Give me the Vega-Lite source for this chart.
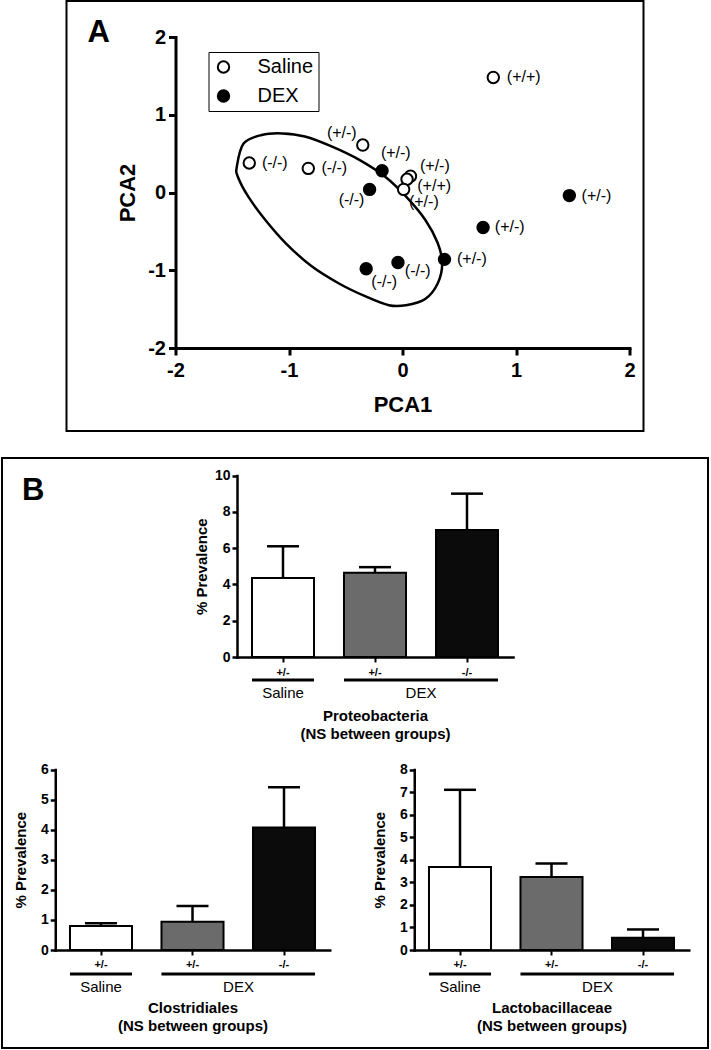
{
  "$schema": "https://vega.github.io/schema/vega-lite/v6.json",
  "background": "white",
  "padding": {"left": 1, "top": 0, "right": 0, "bottom": 0},
  "spacing": 25,
  "center": true,
  "resolve": {"scale": {"fill": "independent"}, "legend": {"fill": "independent"}},
  "datasets": {
    "panels": [{"panel": "A"}, {"panel": "B"}],
    "pca": [
      {"group": "Saline", "pc1": 0.80, "pc2": 1.48, "label": "(+/+)", "lx": 1.068, "ly": 1.482},
      {"group": "Saline", "pc1": -1.35, "pc2": 0.38, "label": "(-/-)", "lx": -1.125, "ly": 0.376},
      {"group": "Saline", "pc1": -0.83, "pc2": 0.31, "label": "(-/-)", "lx": -0.601, "ly": 0.311},
      {"group": "Saline", "pc1": -0.35, "pc2": 0.61, "label": "(+/-)", "lx": -0.535, "ly": 0.761},
      {"group": "Saline", "pc1": 0.07, "pc2": 0.21, "label": "(+/-)", "lx": 0.285, "ly": 0.345},
      {"group": "Saline", "pc1": 0.04, "pc2": 0.17, "label": "(+/+)", "lx": 0.279, "ly": 0.088},
      {"group": "Saline", "pc1": 0.01, "pc2": 0.04, "label": "(+/-)", "lx": 0.188, "ly": -0.118},
      {"group": "DEX", "pc1": -0.18, "pc2": 0.28, "label": "(+/-)", "lx": -0.059, "ly": 0.504},
      {"group": "DEX", "pc1": -0.29, "pc2": 0.04, "label": "(-/-)", "lx": -0.449, "ly": -0.096},
      {"group": "DEX", "pc1": 1.47, "pc2": -0.04, "label": "(+/-)", "lx": 1.709, "ly": -0.041},
      {"group": "DEX", "pc1": 0.71, "pc2": -0.45, "label": "(+/-)", "lx": 0.945, "ly": -0.448},
      {"group": "DEX", "pc1": 0.37, "pc2": -0.86, "label": "(+/-)", "lx": 0.611, "ly": -0.855},
      {"group": "DEX", "pc1": -0.04, "pc2": -0.90, "label": "(-/-)", "lx": 0.134, "ly": -1.005},
      {"group": "DEX", "pc1": -0.32, "pc2": -0.98, "label": "(-/-)", "lx": -0.161, "ly": -1.155}
    ],
    "ellipse": [
      {"i": 0, "pc1": -1.46, "pc2": 0.33},
      {"i": 1, "pc1": -1.40, "pc2": 0.63},
      {"i": 2, "pc1": -1.24, "pc2": 0.74},
      {"i": 3, "pc1": -1.06, "pc2": 0.76},
      {"i": 4, "pc1": -0.86, "pc2": 0.72},
      {"i": 5, "pc1": -0.62, "pc2": 0.59},
      {"i": 6, "pc1": -0.38, "pc2": 0.42},
      {"i": 7, "pc1": -0.15, "pc2": 0.20},
      {"i": 8, "pc1": 0.03, "pc2": -0.05},
      {"i": 9, "pc1": 0.20, "pc2": -0.35},
      {"i": 10, "pc1": 0.31, "pc2": -0.65},
      {"i": 11, "pc1": 0.35, "pc2": -0.91},
      {"i": 12, "pc1": 0.31, "pc2": -1.17},
      {"i": 13, "pc1": 0.20, "pc2": -1.37},
      {"i": 14, "pc1": 0.03, "pc2": -1.45},
      {"i": 15, "pc1": -0.12, "pc2": -1.45},
      {"i": 16, "pc1": -0.32, "pc2": -1.34},
      {"i": 17, "pc1": -0.56, "pc2": -1.17},
      {"i": 18, "pc1": -0.80, "pc2": -0.95},
      {"i": 19, "pc1": -1.03, "pc2": -0.65},
      {"i": 20, "pc1": -1.21, "pc2": -0.35},
      {"i": 21, "pc1": -1.36, "pc2": -0.05},
      {"i": 22, "pc1": -1.45, "pc2": 0.20}
    ],
    "bars": [
      {"taxon": "Proteobacteria", "cat": "Saline +/-", "mean": 4.35, "upper": 6.1},
      {"taxon": "Proteobacteria", "cat": "DEX +/-", "mean": 4.64, "upper": 4.95},
      {"taxon": "Proteobacteria", "cat": "DEX -/-", "mean": 7.0, "upper": 9.0},
      {"taxon": "Clostridiales", "cat": "Saline +/-", "mean": 0.80, "upper": 0.89},
      {"taxon": "Clostridiales", "cat": "DEX +/-", "mean": 0.94, "upper": 1.46},
      {"taxon": "Clostridiales", "cat": "DEX -/-", "mean": 4.07, "upper": 5.41},
      {"taxon": "Lactobacillaceae", "cat": "Saline +/-", "mean": 3.68, "upper": 7.1},
      {"taxon": "Lactobacillaceae", "cat": "DEX +/-", "mean": 3.24, "upper": 3.83},
      {"taxon": "Lactobacillaceae", "cat": "DEX -/-", "mean": 0.54, "upper": 0.91}
    ],
    "groups": [
      {"taxon": "Proteobacteria", "group": "Saline", "first": "Saline +/-", "last": "Saline +/-"},
      {"taxon": "Proteobacteria", "group": "DEX", "first": "DEX +/-", "last": "DEX -/-"},
      {"taxon": "Clostridiales", "group": "Saline", "first": "Saline +/-", "last": "Saline +/-"},
      {"taxon": "Clostridiales", "group": "DEX", "first": "DEX +/-", "last": "DEX -/-"},
      {"taxon": "Lactobacillaceae", "group": "Saline", "first": "Saline +/-", "last": "Saline +/-"},
      {"taxon": "Lactobacillaceae", "group": "DEX", "first": "DEX +/-", "last": "DEX -/-"}
    ]
  },
  "vconcat": [
    {
      "width": 577,
      "height": 430,
      "layer": [
        {
          "data": {"name": "ellipse"},
          "mark": {"type": "line", "interpolate": "cardinal-closed", "stroke": "black", "strokeWidth": 2.5},
          "encoding": {
            "x": {"field": "pc1", "type": "quantitative", "scale": {"domain": [-2, 2], "range": [109, 563], "nice": false, "zero": false},
              "axis": {"orient": "bottom", "offset": -83, "values": [-2, -1, 0, 1, 2], "title": "PCA1", "labelExpr": "datum.value + ''",
                "domainWidth": 3, "tickWidth": 3, "tickSize": 7, "labelFont": "Liberation Sans", "labelFontWeight": "bold", "labelFontSize": 20, "labelPadding": 5,
                "titleFont": "Liberation Sans", "titleFontSize": 22, "titleFontWeight": "bold", "titlePadding": 14}},
            "y": {"field": "pc2", "type": "quantitative", "scale": {"domain": [-2, 2], "range": [347, 36], "nice": false, "zero": false},
              "axis": {"orient": "left", "offset": -109, "values": [-2, -1, 0, 1, 2], "title": "PCA2", "labelExpr": "datum.value + ''",
                "domainWidth": 3, "tickWidth": 3, "tickSize": 7, "labelFont": "Liberation Sans", "labelFontWeight": "bold", "labelFontSize": 20, "labelPadding": 3,
                "titleFont": "Liberation Sans", "titleFontSize": 22, "titleFontWeight": "bold", "titlePadding": 8}},
            "order": {"field": "i", "type": "quantitative"}
          }
        },
        {
          "data": {"name": "pca"},
          "mark": {"type": "point", "filled": true, "size": 130, "stroke": "black", "strokeWidth": 2, "opacity": 1},
          "encoding": {
            "x": {"field": "pc1", "type": "quantitative"},
            "y": {"field": "pc2", "type": "quantitative"},
            "fill": {"field": "group", "type": "nominal", "scale": {"domain": ["Saline", "DEX"], "range": ["white", "black"]},
              "legend": {"title": null, "orient": "none", "legendX": 142, "legendY": 51, "direction": "vertical", "strokeColor": "black", "fillColor": "white",
                "padding": 5, "symbolType": "circle", "symbolSize": 130, "symbolStrokeColor": "black", "symbolStrokeWidth": 2,
                "labelFont": "Liberation Sans", "labelFontSize": 20, "labelColor": "black", "labelOffset": 24, "rowPadding": 9}}
          }
        },
        {
          "data": {"name": "pca"},
          "mark": {"type": "text", "fontSize": 16, "font": "Liberation Sans", "align": "center", "baseline": "middle", "color": "black"},
          "encoding": {
            "x": {"field": "lx", "type": "quantitative"},
            "y": {"field": "ly", "type": "quantitative"},
            "text": {"field": "label"}
          }
        },
        {
          "data": {"name": "panels"},
          "transform": [{"filter": "datum.panel === 'A'"}],
          "mark": {"type": "text", "fontSize": 31, "fontWeight": "bold", "font": "Liberation Sans", "align": "left", "baseline": "alphabetic", "color": "black"},
          "encoding": {
            "x": {"datum": -2.775, "type": "quantitative"},
            "y": {"datum": 1.936, "type": "quantitative"},
            "text": {"field": "panel"}
          }
        }
      ]
    },
    {
      "width": 706,
      "height": 590,
      "resolve": {"scale": {"x": "independent", "y": "independent"}, "axis": {"x": "independent", "y": "independent"}},
      "layer": [
        {
          "layer": [
            {
              "data": {"name": "bars"},
              "transform": [{"filter": "datum.taxon === 'Proteobacteria'"}],
              "mark": {"type": "bar", "stroke": "black", "strokeWidth": 2},
              "encoding": {
                "x": {"field": "cat", "type": "nominal", "scale": {"domain": ["Saline +/-", "DEX +/-", "DEX -/-"], "range": [235, 511], "paddingInner": 0.326, "paddingOuter": 0.163},
                  "axis": {"orient": "bottom", "offset": -391, "title": ["Proteobacteria", "(NS between groups)"], "labelExpr": "split(datum.label, ' ')[1]", "labelAngle": 0,
                    "labelFont": "Liberation Sans", "labelFontSize": 11, "labelFontWeight": "bold", "labelPadding": 4, "tickSize": 5, "tickWidth": 2, "domainWidth": 2.5,
                    "titleFont": "Liberation Sans", "titleFontSize": 15, "titleFontWeight": "bold", "titleLineHeight": 18, "titlePadding": 31}},
                "y": {"field": "mean", "type": "quantitative", "scale": {"domain": [0, 10], "range": [199, 17.5], "nice": false, "zero": false},
                  "axis": {"orient": "left", "offset": -235, "values": [0, 2, 4, 6, 8, 10], "format": "d", "title": "% Prevalence",
                    "labelFont": "Liberation Sans", "labelFontSize": 14, "labelFontWeight": "bold", "labelPadding": 2, "tickSize": 5, "tickWidth": 2.5, "domainWidth": 2.5,
                    "titleFont": "Liberation Sans", "titleFontSize": 15, "titleFontWeight": "bold", "titlePadding": 5}},
                "color": {"field": "cat", "type": "nominal", "scale": {"domain": ["Saline +/-", "DEX +/-", "DEX -/-"], "range": ["white", "#6b6b6b", "#0b0b0b"]}, "legend": null}
              }
            },
            {
              "data": {"name": "bars"},
              "transform": [{"filter": "datum.taxon === 'Proteobacteria'"}],
              "mark": {"type": "rule", "strokeWidth": 2.5, "color": "black"},
              "encoding": {"x": {"field": "cat", "type": "nominal"}, "y": {"field": "mean", "type": "quantitative"}, "y2": {"field": "upper"}}
            },
            {
              "data": {"name": "bars"},
              "transform": [{"filter": "datum.taxon === 'Proteobacteria'"}],
              "mark": {"type": "tick", "size": 32, "thickness": 2.5, "color": "black", "orient": "horizontal", "opacity": 1},
              "encoding": {"x": {"field": "cat", "type": "nominal"}, "y": {"field": "upper", "type": "quantitative"}}
            },
            {
              "data": {"name": "groups"},
              "transform": [{"filter": "datum.taxon === 'Proteobacteria'"}],
              "mark": {"type": "rule", "strokeWidth": 3, "color": "black", "yOffset": 23},
              "encoding": {"x": {"field": "first", "type": "nominal", "bandPosition": 0}, "x2": {"field": "last", "bandPosition": 1}, "y": {"datum": 0, "type": "quantitative"}}
            },
            {
              "data": {"name": "groups"},
              "transform": [{"filter": "datum.taxon === 'Proteobacteria' && datum.group === 'Saline'"}],
              "mark": {"type": "text", "dy": 36, "fontSize": 15, "font": "Liberation Sans", "baseline": "middle", "align": "center", "color": "black"},
              "encoding": {"x": {"field": "first", "type": "nominal", "bandPosition": 0.5}, "y": {"datum": 0, "type": "quantitative"}, "text": {"field": "group"}}
            },
            {
              "data": {"name": "groups"},
              "transform": [{"filter": "datum.taxon === 'Proteobacteria' && datum.group === 'DEX'"}],
              "mark": {"type": "text", "dy": 36, "dx": 46, "fontSize": 15, "font": "Liberation Sans", "baseline": "middle", "align": "center", "color": "black"},
              "encoding": {"x": {"field": "first", "type": "nominal", "bandPosition": 0.5}, "y": {"datum": 0, "type": "quantitative"}, "text": {"field": "group"}}
            },
            {
              "data": {"name": "panels"},
              "transform": [{"filter": "datum.panel === 'B'"}],
              "mark": {"type": "text", "dx": -230, "dy": 24.5, "fontSize": 31, "fontWeight": "bold", "font": "Liberation Sans", "align": "left", "baseline": "alphabetic", "color": "black"},
              "encoding": {"x": {"datum": "Saline +/-", "type": "nominal", "bandPosition": 0}, "y": {"datum": 10, "type": "quantitative"}, "text": {"field": "panel"}}
            }
          ]
        },
        {
          "layer": [
            {
              "data": {"name": "bars"},
              "transform": [{"filter": "datum.taxon === 'Clostridiales'"}],
              "mark": {"type": "bar", "stroke": "black", "strokeWidth": 2},
              "encoding": {
                "x": {"field": "cat", "type": "nominal", "scale": {"domain": ["Saline +/-", "DEX +/-", "DEX -/-"], "range": [53.25, 327.75], "paddingInner": 0.322, "paddingOuter": 0.161},
                  "axis": {"orient": "bottom", "offset": -98, "title": ["Clostridiales", "(NS between groups)"], "labelExpr": "split(datum.label, ' ')[1]", "labelAngle": 0,
                    "labelFont": "Liberation Sans", "labelFontSize": 11, "labelFontWeight": "bold", "labelPadding": 3, "tickSize": 5, "tickWidth": 2, "domainWidth": 2.5,
                    "titleFont": "Liberation Sans", "titleFontSize": 15, "titleFontWeight": "bold", "titleLineHeight": 18, "titlePadding": 31}},
                "y": {"field": "mean", "type": "quantitative", "scale": {"domain": [0, 6], "range": [492, 311.5], "nice": false, "zero": false},
                  "axis": {"orient": "left", "offset": -53.25, "values": [0, 1, 2, 3, 4, 5, 6], "format": "d", "title": "% Prevalence",
                    "labelFont": "Liberation Sans", "labelFontSize": 14, "labelFontWeight": "bold", "labelPadding": 2, "tickSize": 5, "tickWidth": 2.5, "domainWidth": 2.5,
                    "titleFont": "Liberation Sans", "titleFontSize": 15, "titleFontWeight": "bold", "titlePadding": 12}},
                "color": {"field": "cat", "type": "nominal", "scale": {"domain": ["Saline +/-", "DEX +/-", "DEX -/-"], "range": ["white", "#6b6b6b", "#0b0b0b"]}, "legend": null}
              }
            },
            {
              "data": {"name": "bars"},
              "transform": [{"filter": "datum.taxon === 'Clostridiales'"}],
              "mark": {"type": "rule", "strokeWidth": 2.5, "color": "black"},
              "encoding": {"x": {"field": "cat", "type": "nominal"}, "y": {"field": "mean", "type": "quantitative"}, "y2": {"field": "upper"}}
            },
            {
              "data": {"name": "bars"},
              "transform": [{"filter": "datum.taxon === 'Clostridiales'"}],
              "mark": {"type": "tick", "size": 32, "thickness": 2.5, "color": "black", "orient": "horizontal", "opacity": 1},
              "encoding": {"x": {"field": "cat", "type": "nominal"}, "y": {"field": "upper", "type": "quantitative"}}
            },
            {
              "data": {"name": "groups"},
              "transform": [{"filter": "datum.taxon === 'Clostridiales'"}],
              "mark": {"type": "rule", "strokeWidth": 3, "color": "black", "yOffset": 24},
              "encoding": {"x": {"field": "first", "type": "nominal", "bandPosition": 0}, "x2": {"field": "last", "bandPosition": 1}, "y": {"datum": 0, "type": "quantitative"}}
            },
            {
              "data": {"name": "groups"},
              "transform": [{"filter": "datum.taxon === 'Clostridiales' && datum.group === 'Saline'"}],
              "mark": {"type": "text", "dy": 37, "fontSize": 15, "font": "Liberation Sans", "baseline": "middle", "align": "center", "color": "black"},
              "encoding": {"x": {"field": "first", "type": "nominal", "bandPosition": 0.5}, "y": {"datum": 0, "type": "quantitative"}, "text": {"field": "group"}}
            },
            {
              "data": {"name": "groups"},
              "transform": [{"filter": "datum.taxon === 'Clostridiales' && datum.group === 'DEX'"}],
              "mark": {"type": "text", "dy": 37, "dx": 46, "fontSize": 15, "font": "Liberation Sans", "baseline": "middle", "align": "center", "color": "black"},
              "encoding": {"x": {"field": "first", "type": "nominal", "bandPosition": 0.5}, "y": {"datum": 0, "type": "quantitative"}, "text": {"field": "group"}}
            }
          ]
        },
        {
          "layer": [
            {
              "data": {"name": "bars"},
              "transform": [{"filter": "datum.taxon === 'Lactobacillaceae'"}],
              "mark": {"type": "bar", "stroke": "black", "strokeWidth": 2},
              "encoding": {
                "x": {"field": "cat", "type": "nominal", "scale": {"domain": ["Saline +/-", "DEX +/-", "DEX -/-"], "range": [412.25, 686.75], "paddingInner": 0.322, "paddingOuter": 0.161},
                  "axis": {"orient": "bottom", "offset": -98, "title": ["Lactobacillaceae", "(NS between groups)"], "labelExpr": "split(datum.label, ' ')[1]", "labelAngle": 0,
                    "labelFont": "Liberation Sans", "labelFontSize": 11, "labelFontWeight": "bold", "labelPadding": 3, "tickSize": 5, "tickWidth": 2, "domainWidth": 2.5,
                    "titleFont": "Liberation Sans", "titleFontSize": 15, "titleFontWeight": "bold", "titleLineHeight": 18, "titlePadding": 31}},
                "y": {"field": "mean", "type": "quantitative", "scale": {"domain": [0, 8], "range": [492, 311.5], "nice": false, "zero": false},
                  "axis": {"orient": "left", "offset": -412.25, "values": [0, 1, 2, 3, 4, 5, 6, 7, 8], "format": "d", "title": "% Prevalence",
                    "labelFont": "Liberation Sans", "labelFontSize": 14, "labelFontWeight": "bold", "labelPadding": 2, "tickSize": 5, "tickWidth": 2.5, "domainWidth": 2.5,
                    "titleFont": "Liberation Sans", "titleFontSize": 15, "titleFontWeight": "bold", "titlePadding": 12}},
                "color": {"field": "cat", "type": "nominal", "scale": {"domain": ["Saline +/-", "DEX +/-", "DEX -/-"], "range": ["white", "#6b6b6b", "#0b0b0b"]}, "legend": null}
              }
            },
            {
              "data": {"name": "bars"},
              "transform": [{"filter": "datum.taxon === 'Lactobacillaceae'"}],
              "mark": {"type": "rule", "strokeWidth": 2.5, "color": "black"},
              "encoding": {"x": {"field": "cat", "type": "nominal"}, "y": {"field": "mean", "type": "quantitative"}, "y2": {"field": "upper"}}
            },
            {
              "data": {"name": "bars"},
              "transform": [{"filter": "datum.taxon === 'Lactobacillaceae'"}],
              "mark": {"type": "tick", "size": 32, "thickness": 2.5, "color": "black", "orient": "horizontal", "opacity": 1},
              "encoding": {"x": {"field": "cat", "type": "nominal"}, "y": {"field": "upper", "type": "quantitative"}}
            },
            {
              "data": {"name": "groups"},
              "transform": [{"filter": "datum.taxon === 'Lactobacillaceae'"}],
              "mark": {"type": "rule", "strokeWidth": 3, "color": "black", "yOffset": 24},
              "encoding": {"x": {"field": "first", "type": "nominal", "bandPosition": 0}, "x2": {"field": "last", "bandPosition": 1}, "y": {"datum": 0, "type": "quantitative"}}
            },
            {
              "data": {"name": "groups"},
              "transform": [{"filter": "datum.taxon === 'Lactobacillaceae' && datum.group === 'Saline'"}],
              "mark": {"type": "text", "dy": 37, "fontSize": 15, "font": "Liberation Sans", "baseline": "middle", "align": "center", "color": "black"},
              "encoding": {"x": {"field": "first", "type": "nominal", "bandPosition": 0.5}, "y": {"datum": 0, "type": "quantitative"}, "text": {"field": "group"}}
            },
            {
              "data": {"name": "groups"},
              "transform": [{"filter": "datum.taxon === 'Lactobacillaceae' && datum.group === 'DEX'"}],
              "mark": {"type": "text", "dy": 37, "dx": 46, "fontSize": 15, "font": "Liberation Sans", "baseline": "middle", "align": "center", "color": "black"},
              "encoding": {"x": {"field": "first", "type": "nominal", "bandPosition": 0.5}, "y": {"datum": 0, "type": "quantitative"}, "text": {"field": "group"}}
            }
          ]
        }
      ]
    }
  ],
  "config": {
    "view": {"stroke": "black", "strokeWidth": 2},
    "axis": {"domainColor": "black", "tickColor": "black", "labelColor": "black", "titleColor": "black", "grid": false, "labelFlush": false, "labelOverlap": false, "labelBound": false, "domainCap": "square"}
  }
}
